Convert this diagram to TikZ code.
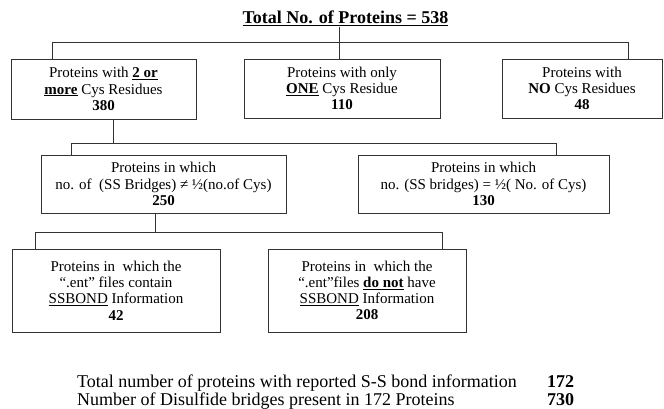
\documentclass[tikz,border=0pt]{standalone}
\usepackage{fontspec}
\setmainfont{Liberation Serif}
\begin{document}
\begin{tikzpicture}[x=1pt,y=-1pt,
  box/.style={draw=black!80, line width=0.8pt, align=center, inner sep=0pt,
    font=\fontsize{15}{16.2}\selectfont},
  conn/.style={draw=black!80, line width=0.8pt},
  foot/.style={anchor=base west, inner sep=0pt, font=\fontsize{18}{19}\selectfont}]
\useasboundingbox (0,0) rectangle (664,409);
\node[inner sep=1pt, font=\fontsize{18}{20}\selectfont\bfseries] (title) at (345.5,18) {\underline{Total No. of Proteins = 538}};
\node[box, minimum width=185pt, minimum height=60pt] (b1) at (103.5,89)
  {Proteins with \underline{\textbf{2 or}}\\ \underline{\textbf{more}} Cys Residues\\ \textbf{380}};
\node[box, minimum width=196pt, minimum height=59pt] (b2) at (342,88.5)
  {Proteins with only\\ \underline{\textbf{ONE}} Cys Residue\\ \textbf{110}};
\node[box, minimum width=160pt, minimum height=59pt] (b3) at (582,88.5)
  {Proteins with\\ \textbf{NO} Cys Residues\\ \textbf{48}};
\node[box, minimum width=245pt, minimum height=58pt] (b250) at (163.5,184)
  {Proteins in which\\ no. of\ \ (SS Bridges) ≠ ½(no.of Cys)\\ \textbf{250}};
\node[box, minimum width=251pt, minimum height=58pt] (b130) at (483.5,184)
  {Proteins in which\\ no. (SS bridges) = ½( No. of Cys)\\ \textbf{130}};
\node[box, minimum width=208pt, minimum height=83pt] (b42) at (116,290.5)
  {Proteins in\ \ which the\\ “.ent” files contain\\ \underline{SSBOND} Information\\ \textbf{42}};
\node[box, minimum width=198pt, minimum height=83pt] (b208) at (367,290.5)
  {Proteins in\ \ which the\\ “.ent”files \underline{\textbf{do not}} have\\ \underline{SSBOND} Information\\ \textbf{208}};
% level 1
\coordinate (h1) at (339,42);
\coordinate (l1a) at (52,42);
\coordinate (l1b) at (628,42);
\draw[conn] (title.south -| h1) -- (h1);
\draw[conn] (b1.north -| l1a) -- (l1a) -- (l1b) -- (b3.north -| l1b);
\draw[conn] (h1) -- (b2.north -| h1);
% level 2
\coordinate (l2m) at (113,143);
\coordinate (l2a) at (71,143);
\coordinate (l2b) at (556,143);
\draw[conn] (b1.south -| l2m) -- (l2m);
\draw[conn] (b250.north -| l2a) -- (l2a) -- (l2b) -- (b130.north -| l2b);
% level 3
\coordinate (l3m) at (155,232);
\coordinate (l3a) at (35,232);
\coordinate (l3b) at (442,232);
\draw[conn] (b250.south -| l3m) -- (l3m);
\draw[conn] (b42.north -| l3a) -- (l3a) -- (l3b) -- (b208.north -| l3b);
% footer
\node[foot] (f1) at (77,387) {Total number of proteins with reported S-S bond information};
\node[foot] (f2) at (77,405) {Number of Disulfide bridges present in 172 Proteins};
\node[foot, font=\fontsize{18}{19}\selectfont\bfseries] (n1) at (547,387) {172};
\node[foot, font=\fontsize{18}{19}\selectfont\bfseries] (n2) at (547,405) {730};
\end{tikzpicture}
\end{document}
